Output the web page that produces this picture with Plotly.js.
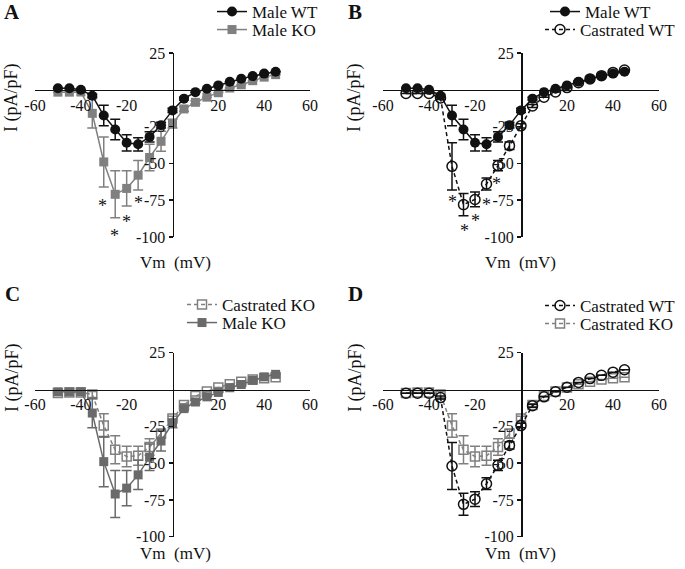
<!DOCTYPE html>
<html>
<head>
<meta charset="utf-8">
<script src="https://cdn.plot.ly/plotly-3.0.1.min.js"></script>
<style>html,body{margin:0;padding:0;background:#fff;}#chart{width:685px;height:569px;}</style>
</head>
<body>
<div id="chart"></div>
<script>
// Membrane voltage (mV)
const voltage = [-50,-45,-40,-35,-30,-25,-20,-15,-10,-5,0,5,10,15,20,25,30,35,40,45];

// Current density I (pA/pF), means and SEM
const maleWT      = [1,1,0,-4,-17.5,-27,-36,-37,-32,-24,-14,-6,-1.6,0.7,3,5.5,7.5,9.3,11,12.3];
const maleWTErr   = [0,0,0,1,7,7,5.5,4.5,3.5,2,1.5,1,0,0,0,0,0,0,0,0];
const maleKO      = [-1.6,-1.6,-1.5,-16,-49,-71,-67,-58,-46,-35,-23,-13,-8.5,-5,-2,1.2,3.4,6.2,8.6,10.3];
const maleKOErr   = [0,0,0,10,17,16,12,10,9,6.8,3,1.5,1,0,0,0,0,0,0,0];
const castWT      = [-2.5,-2.5,-2.5,-5.5,-52,-78,-74.5,-64,-51.5,-38,-24.5,-11,-5,-1.5,1.5,4.8,7.4,9.6,11.8,13.4];
const castWTErr   = [0,0,0,1,16,7.5,5,4,3.5,2.5,1.5,1,0,0,0,0,0,0,0,0];
const castKO      = [-2.3,-2,-2,-3.4,-24.5,-41,-45.5,-45,-39,-30,-19.7,-10.6,-4.5,-1.4,1.4,3.6,5.2,6.8,7.7,8.4];
const castKOErr   = [0,0,0,2,8,9.5,7,6.5,5.6,3,1.5,1,0,0,0,0,0,0,0,0];

// Significance markers per panel: [voltage, y]
const starsA = [[-30.5,-77],[-25.3,-97],[-20.2,-87.5],[-15,-75]];
const starsB = [[-30,-74],[-24.6,-94],[-20,-87],[-15,-76],[-10.6,-62]];

const xTickVals = [-60,-40,-20,20,40,60];
const yTickVals = [25,-25,-50,-75,-100];

const FONT = '"Liberation Serif", "Times New Roman", serif';
const BLACK = '#111111';
const GRAY = '#808080';
const DARKGRAY = '#6a6a6a';

function series(name, y, err, opts) {
  return Object.assign({
    type: 'scatter', mode: 'lines+markers', name: name, x: voltage, y: y,
    error_y: {type: 'data', array: err, visible: true, color: opts.color, thickness: 1.5, width: 5},
    line: {color: opts.color, width: 1.5, dash: opts.dash || 'solid'},
    marker: {symbol: opts.symbol, size: opts.size || 10, color: opts.color,
             line: {color: opts.color, width: opts.open ? 1.5 : 0}},
    cliponaxis: false
  }, opts.extra || {});
}

const data = [
  // A
  series('Male KO', maleKO, maleKOErr, {color: GRAY, symbol: 'square', size: 9, extra: {xaxis: 'x', yaxis: 'y', legend: 'legend2'}}),
  series('Male WT', maleWT, maleWTErr, {color: BLACK, symbol: 'circle', extra: {xaxis: 'x', yaxis: 'y', legend: 'legend'}}),
  // B
  series('Castrated WT', castWT, castWTErr, {color: BLACK, symbol: 'circle-open', open: true, dash: '4px,3px', extra: {xaxis: 'x2', yaxis: 'y2', legend: 'legend4'}}),
  series('Male WT', maleWT, maleWTErr, {color: BLACK, symbol: 'circle', extra: {xaxis: 'x2', yaxis: 'y2', legend: 'legend3'}}),
  // C
  series('Castrated KO', castKO, castKOErr, {color: GRAY, symbol: 'square-open', open: true, size: 9, dash: '4px,3px', extra: {xaxis: 'x3', yaxis: 'y3', legend: 'legend5'}}),
  series('Male KO', maleKO, maleKOErr, {color: DARKGRAY, symbol: 'square', size: 9, extra: {xaxis: 'x3', yaxis: 'y3', legend: 'legend6'}}),
  // D
  series('Castrated KO', castKO, castKOErr, {color: GRAY, symbol: 'square-open', open: true, size: 9, dash: '4px,3px', extra: {xaxis: 'x4', yaxis: 'y4', legend: 'legend8'}}),
  series('Castrated WT', castWT, castWTErr, {color: BLACK, symbol: 'circle-open', open: true, dash: '4px,3px', extra: {xaxis: 'x4', yaxis: 'y4', legend: 'legend7'}})
];

const W = 685, H = 569;
const xDomL = [35/W, 310/W];
const xDomR = [383/W, 659/W];
const yDomT = [1-237/H, 1-53/H];
const yDomB = [1-536.7/H, 1-352.7/H];

function xAxis(xd, yd) {
  return {
    domain: xd, range: [-60, 60], anchor: 'free', position: yd[0] + 0.8*(yd[1]-yd[0]),
    showline: true, linecolor: BLACK, linewidth: 1.5, zeroline: false, showgrid: false,
    ticks: '', tickvals: xTickVals, ticktext: xTickVals.map(String),
    tickfont: {family: FONT, size: 16, color: BLACK}, fixedrange: true, automargin: false
  };
}
function yAxis(xd, yd) {
  return {
    domain: yd, range: [-100, 25], anchor: 'free', position: (xd[0]+xd[1])/2,
    showline: true, linecolor: BLACK, linewidth: 1.5, zeroline: false, showgrid: false,
    ticks: 'outside', ticklen: 4, tickwidth: 1.5, tickcolor: BLACK,
    tickvals: yTickVals, ticktext: yTickVals.map(String),
    tickfont: {family: FONT, size: 16, color: BLACK}, fixedrange: true, automargin: false
  };
}

function legendAt(xPx, yPx) {
  return {x: xPx/W, y: 1 - yPx/H, xanchor: 'left', yanchor: 'middle',
          bgcolor: 'rgba(0,0,0,0)', borderwidth: 0,
          font: {family: FONT, size: 17, color: BLACK}, itemwidth: 30};
}

const annotations = [];
function addText(text, xPx, yPx, opts) {
  annotations.push(Object.assign({xref: 'paper', yref: 'paper', x: xPx/W, y: 1 - yPx/H,
    text: text, showarrow: false, font: {family: FONT, size: 16, color: BLACK},
    xanchor: 'center', yanchor: 'middle'}, opts || {}));
}
const letterFont = {family: FONT, size: 21, color: BLACK};
addText('<b>A</b>', 12, 12, {font: letterFont});
addText('<b>B</b>', 355, 12, {font: letterFont});
addText('<b>C</b>', 12, 294, {font: letterFont});
addText('<b>D</b>', 355, 294, {font: letterFont});
const titleFont = {family: FONT, size: 17, color: BLACK};
addText('Vm  (mV)', 175, 262, {font: titleFont});
addText('Vm  (mV)', 520, 262, {font: titleFont});
addText('Vm  (mV)', 175, 553, {font: titleFont});
addText('Vm  (mV)', 520, 553, {font: titleFont});
const yTitleFont = {family: FONT, size: 18, color: BLACK};
addText('I (pA/pF)', 12, 98, {textangle: -90, font: yTitleFont});
addText('I (pA/pF)', 355, 98, {textangle: -90, font: yTitleFont});
addText('I (pA/pF)', 12, 378, {textangle: -90, font: yTitleFont});
addText('I (pA/pF)', 355, 378, {textangle: -90, font: yTitleFont});

starsA.forEach(s => annotations.push({xref: 'x', yref: 'y', x: s[0], y: s[1], text: '*', showarrow: false,
  font: {family: FONT, size: 18, color: BLACK}, yshift: -3}));
starsB.forEach(s => annotations.push({xref: 'x2', yref: 'y2', x: s[0], y: s[1], text: '*', showarrow: false,
  font: {family: FONT, size: 18, color: BLACK}, yshift: -3}));

const layout = {
  width: W, height: H, margin: {l: 0, r: 0, t: 0, b: 0, pad: 0, autoexpand: false},
  paper_bgcolor: '#ffffff', plot_bgcolor: 'rgba(0,0,0,0)',
  font: {family: FONT, color: BLACK},
  showlegend: true,
  xaxis: xAxis(xDomL, yDomT), yaxis: yAxis(xDomL, yDomT),
  xaxis2: xAxis(xDomR, yDomT), yaxis2: yAxis(xDomR, yDomT),
  xaxis3: xAxis(xDomL, yDomB), yaxis3: yAxis(xDomL, yDomB),
  xaxis4: xAxis(xDomR, yDomB), yaxis4: yAxis(xDomR, yDomB),
  legend: legendAt(212, 12), legend2: legendAt(212, 30),
  legend3: legendAt(545, 12), legend4: legendAt(540, 30),
  legend5: legendAt(182, 305), legend6: legendAt(182, 323),
  legend7: legendAt(540, 306), legend8: legendAt(540, 324),
  annotations: annotations
};

Plotly.newPlot('chart', data, layout, {staticPlot: true, displayModeBar: false});
</script>
</body>
</html>
